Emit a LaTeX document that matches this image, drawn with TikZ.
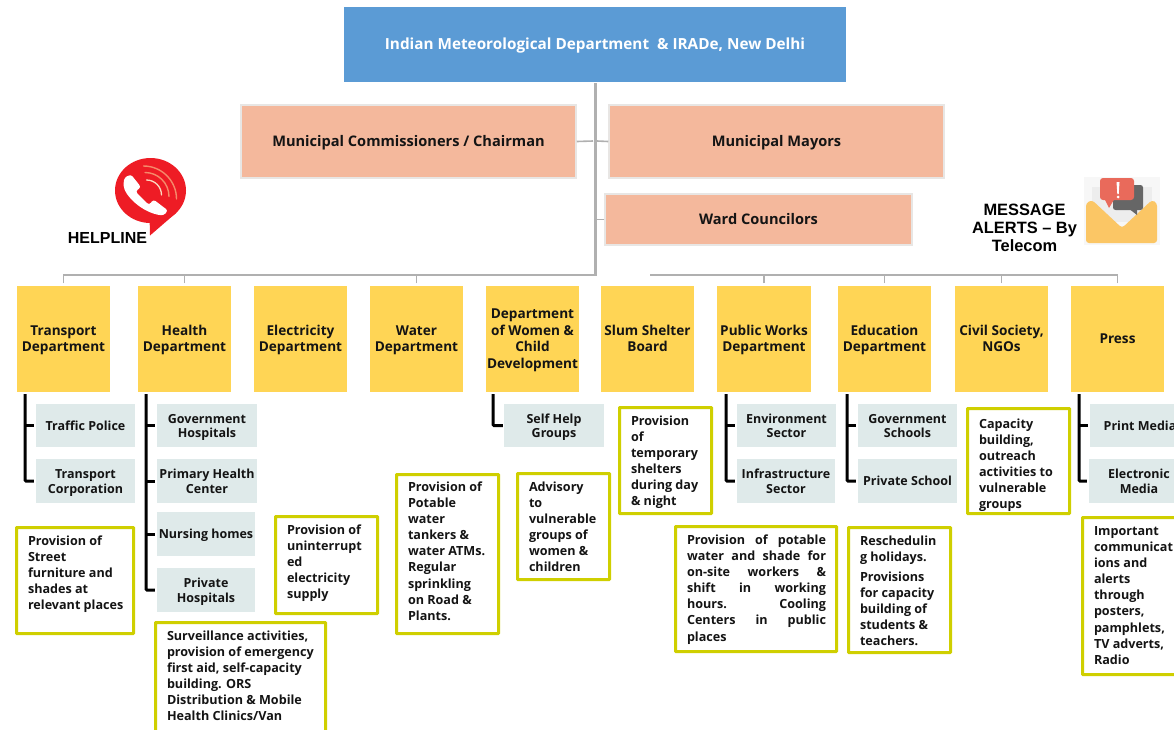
\documentclass[tikz,border=0pt]{standalone}
\usepackage{fontspec}
\setmainfont{Open Sans}
\newfontfamily\arialf{Liberation Sans}
\definecolor{topblue}{HTML}{5B9BD5}
\definecolor{pinkbox}{HTML}{F4B89C}
\definecolor{pinkedge}{HTML}{E8E6E4}
\definecolor{yelbox}{HTML}{FFD555}
\definecolor{subbox}{HTML}{DFEAEA}
\definecolor{noteedge}{HTML}{CFCF00}
\definecolor{busgrey}{HTML}{B0B0B0}
\definecolor{txt}{HTML}{141414}
\definecolor{phonered}{HTML}{EE1C25}
\definecolor{arcpale}{HTML}{FBD9C0}
\definecolor{arcsalmon}{HTML}{F58A6A}
\definecolor{envel}{HTML}{FBC665}
\definecolor{paperg}{HTML}{EDEDED}
\definecolor{bubred}{HTML}{E96A5B}
\definecolor{bubgrey}{HTML}{666666}
\tikzset{
  topbox/.style={fill=topblue,draw=none,text=white,font=\bfseries\fontsize{15.3}{17}\selectfont,execute at begin node={\rule[-4pt]{0pt}{18pt}}},
  pinkb/.style={fill=pinkbox,draw=pinkedge,line width=1.5pt,text=txt,font=\bfseries\fontsize{14.6}{17}\selectfont,execute at begin node={\rule[-3.6pt]{0pt}{16.6pt}}},
  dept/.style={fill=yelbox,draw=none,text=txt,font=\bfseries\fontsize{13.6}{16.5}\selectfont,execute at begin node={\def\mbshift{2pt}}},
  subb/.style={fill=subbox,draw=none,text=txt,font=\bfseries\fontsize{12.5}{14.3}\selectfont,execute at begin node={\def\mbshift{4pt}}},
  noteb/.style={fill=white,draw=noteedge,line width=3pt,text=txt,inner sep=0pt,rounded corners=0.5pt},
  bus/.style={draw=busgrey,line width=2pt},
  trunk/.style={draw=busgrey,line width=3pt},
  stub/.style={draw=busgrey,line width=1.6pt},
  brk/.style={draw=black,line width=3pt,rounded corners=1pt},
  iconlabel/.style={text=black,align=center,font=\arialf\bfseries}
}
% name, style, x1, y1, x2, y2, text
\newcommand{\cbx}[7]{\node[#2,inner sep=0pt,minimum width={(#5-#3)*1pt},minimum height={(#6-#4)*1pt}] (#1) at ({(#3+#5)/2},{(#4+#6)/2}) {#7};}
% same, with several centred lines placed symmetrically in the box
\newcommand{\mbx}[7]{\node[#2,inner sep=0pt] (#1) at ({(#3+#5)/2},{(#4+#6)/2}) {\parbox[c][\dimexpr#6pt-#4pt\relax][c]{\dimexpr#5pt-#3pt\relax}{\vspace*{\mbshift}\centering\strut #7\strut}};}
% name, x1, y1, x2, y2, text left, first-line centre, lines  (x,y are outer edges of the 3pt outline)
\newcommand{\nbx}[8]{\node[noteb] (#1) at ({(#2+#4)/2},{(#3+#5)/2}) {\parbox[c][\dimexpr#5pt-#3pt-3pt\relax][t]{\dimexpr#4pt-#2pt-3pt\relax}{\fontsize{12.6}{16.15}\bfseries\selectfont\leftskip=\dimexpr#6pt-#2pt-1.5pt\relax\rightskip=-60pt plus 1fil\parindent=0pt\hyphenpenalty=10000\rule{0pt}{\dimexpr#7pt-#3pt+3.7pt\relax}#8}};}
\begin{document}
\begin{tikzpicture}[x=1pt,y=-1pt]
\useasboundingbox (0,0) rectangle (1174,729);
\clip (0,0) rectangle (1174,729);
% top
\cbx{imd}{topbox}{344}{7}{846}{82}{Indian Meteorological Department\ \ \& IRADe, New Delhi}
\cbx{comm}{pinkb}{241}{105}{576}{178}{Municipal Commissioners / Chairman}
\cbx{mayor}{pinkb}{609}{105}{944}{178}{Municipal Mayors}
\cbx{ward}{pinkb}{605}{194}{912}{245}{Ward Councilors}
% departments
\mbx{dtrans}{dept}{17}{286}{110}{392}{Transport\\Department}
\mbx{dhealth}{dept}{138}{286}{231}{392}{Health\\Department}
\mbx{delec}{dept}{254}{286}{347}{392}{Electricity\\Department}
\mbx{dwater}{dept}{370}{286}{463}{392}{Water\\Department}
\mbx{dwomen}{dept}{486}{286}{579}{392}{Department\\of Women \&\\Child\\Development}
\mbx{dslum}{dept}{601}{286}{694}{392}{Slum Shelter\\Board}
\mbx{dpub}{dept}{717}{286}{811}{392}{Public Works\\Department}
\mbx{dedu}{dept}{838}{286}{931}{392}{Education\\Department}
\mbx{dcivil}{dept}{955}{286}{1048}{392}{Civil Society,\\NGOs}
\mbx{dpress}{dept}{1071}{286}{1164}{392}{Press}
% sub boxes
\mbx{straffic}{subb}{36}{404}{135}{447}{Traffic Police}
\mbx{scorp}{subb}{36}{459}{135}{503}{Transport\\Corporation}
\mbx{sgov}{subb}{157}{404}{257}{447}{Government\\Hospitals}
\mbx{sphc}{subb}{157}{459}{257}{503}{Primary Health\\Center}
\mbx{snurse}{subb}{157}{512}{255}{556}{Nursing homes}
\mbx{spriv}{subb}{157}{568}{255}{612}{Private\\Hospitals}
\mbx{sshg}{subb}{504}{404}{604}{447}{Self Help\\Groups}
\mbx{senv}{subb}{737}{404}{836}{447}{Environment\\Sector}
\mbx{sinfra}{subb}{737}{459}{835}{503}{Infrastructure\\Sector}
\mbx{sgsch}{subb}{858}{404}{957}{447}{Government\\Schools}
\mbx{spsch}{subb}{858}{459}{957}{503}{Private School}
\mbx{sprint}{subb}{1090}{404}{1190}{447}{Print Media}
\mbx{selec}{subb}{1089}{459}{1189}{503}{Electronic\\Media}
% notes
\nbx{ntrans}{15}{526}{135}{635}{28}{540}{Provision of\\Street\\furniture and\\shades at\\relevant places}
\nbx{nhealth}{154}{621}{327}{745}{167}{635}{Surveillance activities,\\provision of emergency\\first aid, self-capacity\\building. ORS\\Distribution \& Mobile\\Health Clinics/Van}
\nbx{nelec}{274}{515}{379}{615}{287}{529}{Provision of\\uninterrupt\\ed\\electricity\\supply}
\nbx{nwater}{395}{473}{500}{635}{408}{486}{Provision of\\Potable\\water\\tankers \&\\water ATMs.\\Regular\\sprinkling\\on Road \&\\Plants.}
\nbx{nwomen}{516}{472}{611}{581}{529}{486}{Advisory\\to\\vulnerable\\groups of\\women \&\\children}
\nbx{nslum}{618}{406}{713}{515}{631}{420}{Provision\\of\\temporary\\shelters\\during day\\\& night}
\nbx{npub}{674}{525}{838}{653}{687}{539}{\makebox[139pt][s]{Provision of potable}\\\makebox[139pt][s]{water and shade for}\\\makebox[139pt][s]{on-site workers \&}\\\makebox[139pt][s]{shift in working}\\\makebox[139pt][s]{hours. Cooling}\\\makebox[139pt][s]{Centers in public}\\places}
\nbx{nedu}{847}{526}{952}{654}{860}{540}{Reschedulin\\g holidays.\\[3.5pt]Provisions\\for capacity\\building of\\students \&\\teachers.}
\nbx{ncivil}{966}{407}{1071}{515}{979}{423}{Capacity\\building,\\outreach\\activities to\\vulnerable\\groups}
\nbx{npress}{1081}{516}{1190}{676}{1094}{530}{Important\\communicat\\ions and\\alerts\\through\\posters,\\pamphlets,\\TV adverts,\\Radio}
% trunk and buses
\coordinate (trunkend) at (595,275);
\coordinate (busleft) at (63,275);
\coordinate (busright) at (650,275);
\coordinate (busend) at (1117.5,275);
\draw[trunk] (imd.south -| trunkend) ++(0,1) -- (trunkend);
\draw[bus,line join=miter] (trunkend) ++(1.5,0) -- (busleft);
\draw[bus] (busright) -- (busend);
\coordinate (trL) at (593,141);
\coordinate (trR) at (597,141);
\draw[stub] (comm.east) -- (trL);
\draw[stub] (mayor.west) -- (trR);
\draw[stub] (ward.west) -- (trR |- ward.west);
\foreach \n in {dtrans,dhealth,dwater,dpub,dedu,dcivil,dpress}{
  \draw[stub,shorten <=2.5pt] (\n.north) -- (\n.north |- trunkend);
}
% brackets
\coordinate (b1) at (25,394);
\draw[brk] (b1) |- ([xshift=-2pt]scorp.west);
\draw[brk] (b1 |- straffic.west) -- ([xshift=-2pt]straffic.west);
\coordinate (b2) at (146,394);
\draw[brk] (b2) |- ([xshift=-2pt]spriv.west);
\foreach \n in {sgov,sphc,snurse}{\draw[brk] (b2 |- \n.west) -- ([xshift=-2pt]\n.west);}
\coordinate (b3) at (493,394);
\draw[brk] (b3) |- ([xshift=-1pt]sshg.west);
\coordinate (b4) at (726,394);
\draw[brk] (b4) |- ([xshift=-2pt]sinfra.west);
\draw[brk] (b4 |- senv.west) -- ([xshift=-2pt]senv.west);
\coordinate (b5) at (847,394);
\draw[brk] (b5) |- ([xshift=-2pt]spsch.west);
\draw[brk] (b5 |- sgsch.west) -- ([xshift=-2pt]sgsch.west);
\coordinate (b6) at (1079,394);
\draw[brk] (b6) |- ([xshift=-2pt]selec.west);
\draw[brk] (b6 |- sprint.west) -- ([xshift=-2pt]sprint.west);
% helpline icon
\fill[phonered] (150.5,190.5) circle[x radius=35.5,y radius=32.5];
\fill[phonered] (149.5,215) -- (150,235.5) -- (176,213) -- cycle;
\fill[white,rounded corners=2.5pt] (131,174.5) -- (141,187) -- (135.5,191.5) -- (149,205) -- (153.5,199.5) -- (168,210.5) -- (163.5,215.5) .. controls (142,213) and (124,195) .. (123.5,183) -- (124.5,177.5) -- cycle;
\draw[line width=1.3pt,draw=arcpale,line cap=round] (146.5,180) arc[start angle=-90,end angle=0,radius=15];
\draw[line width=1.4pt,draw=arcsalmon,line cap=round] (145,172.5) arc[start angle=-90,end angle=0,radius=24];
\draw[line width=1.4pt,draw=arcsalmon,line cap=round] (143.5,166) arc[start angle=-90,end angle=0,radius=33];
\node[iconlabel,font=\arialf\bfseries\fontsize{16}{18}\selectfont] (help) at (107.5,238) {HELPLINE};
% message icon
\fill[black!3] (1084,177) rectangle (1160,245);
\fill[paperg] (1092,187) rectangle (1152,222);
\fill[envel,rounded corners=3pt] (1086,203) -- (1092,200) -- (1122,228) -- (1152,200) -- (1157,203) -- (1157,243) -- (1086,243) -- cycle;
\fill[bubgrey,rounded corners=2.5pt] (1113,185) rectangle (1143,210);
\fill[bubgrey] (1128,208) -- (1137,215) -- (1137,208) -- cycle;
\fill[bubred,rounded corners=3pt] (1100,178) rectangle (1134,200);
\fill[bubred] (1104,198) -- (1109,208) -- (1115,198) -- cycle;
\fill[white] (1116.5,182) -- (1119.5,182) -- (1118.7,194) -- (1117.3,194) -- cycle;
\fill[white] (1118,197) circle[radius=1.5];
\node[iconlabel,font=\arialf\bfseries\fontsize{16.4}{18}\selectfont] (msg) at (1024.5,227.5) {MESSAGE\\ALERTS – By\\Telecom};
\end{tikzpicture}
\end{document}
